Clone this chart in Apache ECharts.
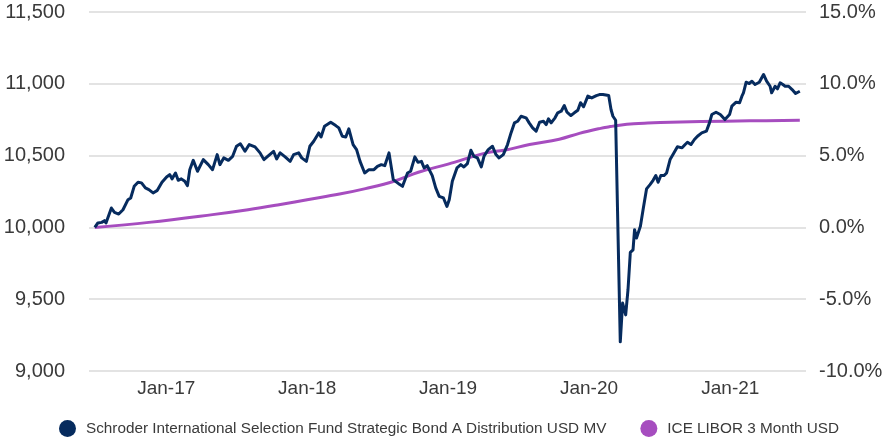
<!DOCTYPE html>
<html>
<head>
<meta charset="utf-8">
<script src="https://cdn.jsdelivr.net/npm/echarts@6/dist/echarts.min.js"></script>
<style>
  html, body { margin: 0; padding: 0; background: #fff; }
  #chart { width: 891px; height: 442px; }
</style>
</head>
<body>
<div id="chart"></div>
<script>
// fund growth of 10,000
const fundDates = [
  '2016-06-30','2016-07-08','2016-07-18','2016-07-25','2016-07-29','2016-08-12','2016-08-20','2016-08-31',
  '2016-09-11','2016-09-24','2016-10-01','2016-10-10','2016-10-20','2016-10-29','2016-11-08','2016-11-17',
  '2016-11-28','2016-12-09','2016-12-21','2017-01-02','2017-01-10','2017-01-16','2017-01-25','2017-02-01',
  '2017-02-09','2017-02-18','2017-02-25','2017-03-03','2017-03-12','2017-03-23','2017-04-07','2017-04-20',
  '2017-05-01','2017-05-13','2017-05-20','2017-05-30','2017-06-11','2017-06-22','2017-07-02','2017-07-12',
  '2017-07-24','2017-08-04','2017-08-19','2017-09-01','2017-09-11','2017-09-23','2017-10-06','2017-10-14',
  '2017-10-23','2017-11-05','2017-11-18','2017-11-27','2017-12-10','2017-12-18','2017-12-30','2018-01-08',
  '2018-01-18','2018-01-31','2018-02-06','2018-02-15','2018-03-03','2018-03-16','2018-03-24','2018-04-02',
  '2018-04-11','2018-04-19','2018-04-30','2018-05-09','2018-05-18','2018-05-30','2018-06-10','2018-06-23',
  '2018-07-02','2018-07-12','2018-07-21','2018-08-01','2018-08-12','2018-08-29','2018-09-05','2018-09-18',
  '2018-09-26','2018-10-07','2018-10-15','2018-10-24','2018-10-31','2018-11-08','2018-11-21','2018-11-30',
  '2018-12-09','2018-12-20','2018-12-29','2019-01-04','2019-01-12','2019-01-24','2019-02-03','2019-02-11',
  '2019-02-20','2019-03-01','2019-03-09','2019-03-18','2019-03-28','2019-04-04','2019-04-15','2019-04-26',
  '2019-05-05','2019-05-13','2019-05-24','2019-06-04','2019-06-13','2019-06-22','2019-06-30','2019-07-09',
  '2019-07-22','2019-07-30','2019-08-08','2019-08-17','2019-08-26','2019-09-05','2019-09-12','2019-09-18',
  '2019-09-25','2019-10-05','2019-10-12','2019-10-21','2019-10-29','2019-11-05','2019-11-15','2019-11-24',
  '2019-12-03','2019-12-10','2019-12-18','2019-12-29','2020-01-08','2020-01-20','2020-01-28','2020-02-06',
  '2020-02-21','2020-02-27','2020-03-03','2020-03-10','2020-03-22','2020-03-28','2020-03-31','2020-04-05',
  '2020-04-11','2020-04-17','2020-04-24','2020-04-28','2020-05-03','2020-05-13','2020-05-20','2020-05-29',
  '2020-06-07','2020-06-15','2020-06-22','2020-06-28','2020-07-05','2020-07-13','2020-07-20','2020-07-29',
  '2020-08-07','2020-08-17','2020-08-29','2020-09-06','2020-09-12','2020-09-21','2020-09-30','2020-10-08',
  '2020-10-19','2020-10-31','2020-11-08','2020-11-14','2020-11-25','2020-12-06','2020-12-18','2020-12-30',
  '2021-01-05','2021-01-16','2021-01-25','2021-01-31','2021-02-04','2021-02-11','2021-02-19','2021-02-26',
  '2021-03-06','2021-03-17','2021-03-28','2021-04-05','2021-04-14','2021-04-18','2021-04-27','2021-05-03',
  '2021-05-10','2021-05-17','2021-05-23','2021-06-01','2021-06-10','2021-06-19','2021-06-25','2021-06-30'
];
const fundValues = [
  10000,10031,10035,10047,10031,10135,10105,10093,
  10123,10193,10205,10286,10314,10310,10275,10263,
  10240,10258,10314,10351,10368,10338,10379,10328,
  10338,10321,10291,10402,10467,10391,10472,10437,
  10402,10507,10437,10484,10467,10495,10565,10582,
  10530,10577,10561,10519,10472,10500,10530,10477,
  10519,10491,10460,10507,10519,10484,10460,10565,
  10600,10658,10630,10704,10732,10709,10693,10635,
  10630,10686,10577,10542,10460,10379,10402,10402,
  10425,10437,10430,10519,10333,10298,10286,10379,
  10391,10491,10453,10460,10414,10430,10361,10275,
  10216,10205,10146,10193,10321,10414,10437,10421,
  10444,10537,10495,10484,10421,10495,10542,10565,
  10507,10484,10507,10577,10658,10728,10739,10774,
  10763,10728,10693,10670,10732,10739,10716,10756,
  10728,10763,10798,10809,10849,10802,10779,10798,
  10816,10868,10840,10914,10902,10918,10925,10925,
  10918,10821,10774,10746,9203,9473,9484,9391,
  9566,9826,9844,9984,9926,10007,10123,10268,
  10298,10328,10361,10314,10361,10361,10379,10472,
  10514,10561,10554,10577,10593,10577,10612,10635,
  10658,10670,10728,10786,10802,10786,10751,10786,
  10844,10872,10868,10914,10937,11011,11002,11018,
  10995,11011,11065,11018,10983,10937,10983,10965,
  11007,10995,10983,10983,10960,10932,10941,10948
];

// ICE LIBOR 3 Month USD, growth of 10,000
const liborDates = [
  '2016-06-30','2016-11-17','2017-05-01','2017-08-01','2017-10-20','2018-01-01','2018-03-26','2018-06-01',
  '2018-08-14','2018-10-16','2019-01-01','2019-04-10','2019-05-26','2019-07-31','2019-10-16','2019-12-07',
  '2020-01-28','2020-02-25','2020-03-20','2020-04-26','2020-06-01','2020-07-04','2020-10-17','2021-02-21',
  '2021-06-30'
];
const liborValues = [
  10000,10035,10089,10123,10158,10193,10232,10270,
  10321,10384,10441,10519,10537,10577,10614,10655,
  10688,10702,10712,10722,10727,10730,10737,10742,
  10746
];

const xTickYears = [2017, 2018, 2019, 2020, 2021];
const xTickLabels = ['Jan-17','Jan-18','Jan-19','Jan-20','Jan-21'];

const seriesNames = [
  'Schroder International Selection Fund Strategic Bond A Distribution USD MV',
  'ICE LIBOR 3 Month USD'
];

const navy = '#062b5e';
const purple = '#a64dbf';
const labelFont = { fontFamily: 'Liberation Sans, Arial, sans-serif', fontSize: 20, color: '#3a3a3a' };
const YEAR = 365 * 24 * 3600 * 1000;

const chart = echarts.init(document.getElementById('chart'));
const option = {
  animation: false,
  grid: { left: 89, right: 85, top: 12, bottom: 71 },
  legend: {
    bottom: 0,
    left: 54,
    icon: 'circle',
    itemWidth: 17,
    itemHeight: 17,
    itemGap: 34,
    textStyle: {
      fontFamily: 'Liberation Sans, Arial, sans-serif',
      fontSize: 15.3,
      color: '#3a3a3a',
      padding: [0, 0, 0, 5]
    },
    data: seriesNames
  },
  xAxis: {
    type: 'time',
    min: new Date('2016-06-15T00:00:00').getTime(),
    max: new Date('2021-07-16T00:00:00').getTime(),
    minInterval: YEAR,
    maxInterval: YEAR * 1.01,
    axisLine: { show: false },
    axisTick: { show: false },
    splitLine: { show: false },
    axisLabel: Object.assign({}, labelFont, {
      fontSize: 19,
      margin: 8,
      showMinLabel: false,
      showMaxLabel: false,
      formatter: v => {
        const d = new Date(v);
        const i = xTickYears.indexOf(d.getFullYear());
        return (i >= 0 && d.getMonth() === 0) ? xTickLabels[i] : '';
      }
    })
  },
  yAxis: [
    {
      type: 'value',
      min: 9000,
      max: 11500,
      interval: 500,
      axisLine: { show: false },
      axisTick: { show: false },
      splitLine: { lineStyle: { color: '#e3e3e3', width: 2 } },
      axisLabel: Object.assign({}, labelFont, {
        margin: 24,
        formatter: v => v.toLocaleString('en-US')
      })
    },
    {
      type: 'value',
      min: -10,
      max: 15,
      interval: 5,
      axisLine: { show: false },
      axisTick: { show: false },
      splitLine: { show: false },
      axisLabel: Object.assign({}, labelFont, {
        margin: 13,
        formatter: v => v.toFixed(1) + '%'
      })
    }
  ],
  series: [
    {
      name: seriesNames[0],
      type: 'line',
      yAxisIndex: 0,
      showSymbol: false,
      data: fundDates.map((d, i) => [d, fundValues[i]]),
      itemStyle: { color: navy },
      lineStyle: { color: navy, width: 3, join: 'round' },
      z: 3
    },
    {
      name: seriesNames[1],
      type: 'line',
      yAxisIndex: 0,
      showSymbol: false,
      smooth: 0.4,
      data: liborDates.map((d, i) => [d, liborValues[i]]),
      itemStyle: { color: purple },
      lineStyle: { color: purple, width: 3 },
      z: 2
    }
  ]
};
chart.setOption(option);
</script>
</body>
</html>
